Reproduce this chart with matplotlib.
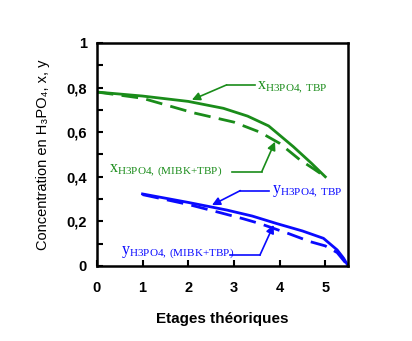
import matplotlib
matplotlib.use("Agg")
import matplotlib.pyplot as plt
from matplotlib.ticker import MultipleLocator, FuncFormatter

plt.rcParams['mathtext.fontset'] = 'custom'
plt.rcParams['mathtext.rm'] = 'Liberation Serif'

green = '#1a8c1a'
blue = '#0a0aff'

# x (raffinat) TBP seul
x_tbp_etage = [0, 1, 2, 2.77, 3.3, 3.76, 4.3, 4.7, 5.0]
x_tbp_conc = [0.78, 0.762, 0.738, 0.707, 0.672, 0.628, 0.535, 0.46, 0.40]
# x MIBK+TBP
x_mix_etage = [0, 1, 2.11, 3.0, 3.57, 4.0, 4.45, 4.75, 5.0]
x_mix_conc = [0.78, 0.752, 0.687, 0.645, 0.60, 0.55, 0.475, 0.435, 0.40]
# y (extrait) TBP seul
y_tbp_etage = [1, 2, 2.84, 3.4, 3.94, 4.5, 4.96, 5.26, 5.4, 5.5]
y_tbp_conc = [0.323, 0.285, 0.251, 0.224, 0.19, 0.157, 0.124, 0.072, 0.035, 0.0]
# y MIBK+TBP
y_mix_etage = [1, 2, 2.7, 3.2, 3.57, 4.2, 4.67, 5.0, 5.26, 5.5]
y_mix_conc = [0.32, 0.276, 0.239, 0.212, 0.19, 0.145, 0.109, 0.09, 0.06, 0.0]

fig = plt.figure(figsize=(4.12, 3.41), dpi=100)
ax = fig.add_axes([0.235, 0.22, 0.61, 0.654])

ax.plot(x_tbp_etage, x_tbp_conc, color=green, lw=2)
ax.plot(x_mix_etage, x_mix_conc, color=green, lw=2, dashes=(6, 3))
ax.plot(y_tbp_etage, y_tbp_conc, color=blue, lw=2)
ax.plot(y_mix_etage, y_mix_conc, color=blue, lw=2, dashes=(6, 3))

ax.set_xlim(0, 5.5)
ax.set_ylim(0, 1)
ax.xaxis.set_major_locator(MultipleLocator(1))
ax.yaxis.set_major_locator(MultipleLocator(0.2))
ax.yaxis.set_minor_locator(MultipleLocator(0.1))
ax.tick_params(which='both', direction='in', width=1.5, length=4)
ax.tick_params(which='major', labelsize=10.5, pad=7)
ax.tick_params(axis='x', which='major', pad=11)
for s in ax.spines.values():
    s.set_linewidth(1.8)

ax.xaxis.set_major_formatter(FuncFormatter(lambda v, p: '%d' % round(v)))
ax.yaxis.set_major_formatter(FuncFormatter(
    lambda v, p: ('%g' % round(v, 1)).replace('.', ',')))
for lab in ax.get_xticklabels() + ax.get_yticklabels():
    lab.set_fontweight('bold')
    lab.set_family('Liberation Sans')

ax.set_xlabel('Etages théoriques', fontsize=11, fontweight='bold',
              family='Liberation Sans', labelpad=12)
ax.set_ylabel('Concentration en H₃PO₄, x, y', fontsize=10.5,
              family=['Liberation Sans', 'DejaVu Sans'], labelpad=12)

def label(txt, pos, path, color):
    ax.text(pos[0], pos[1], txt, color=color, fontsize=11.5, va='center')
    ax.plot(path[0][:-1], path[1][:-1], color=color, lw=1.2)
    ax.annotate('', xy=(path[0][-1], path[1][-1]),
                xytext=(path[0][-2], path[1][-2]),
                arrowprops=dict(arrowstyle='-|>', color=color, lw=1.2,
                                mutation_scale=12, shrinkA=0, shrinkB=0))

label(r'$\mathrm{x}_{\mathrm{H3PO4{,}\ TBP}}$', (3.5, 0.80),
      ([3.46, 2.84, 2.08], [0.812, 0.812, 0.745]), green)
label(r'$\mathrm{x}_{\mathrm{H3PO4{,}\ (MIBK{+}TBP)}}$', (0.27, 0.425),
      ([2.95, 3.61, 3.9], [0.423, 0.423, 0.557]), green)
label(r'$\mathrm{y}_{\mathrm{H3PO4{,}\ TBP}}$', (3.83, 0.33),
      ([3.76, 3.14, 2.52], [0.338, 0.338, 0.273]), blue)
label(r'$\mathrm{y}_{\mathrm{H3PO4{,}\ (MIBK{+}TBP)}}$', (0.52, 0.06),
      ([2.92, 3.57, 3.87], [0.049, 0.049, 0.184]), blue)

fig.savefig('out.png', dpi=100)
